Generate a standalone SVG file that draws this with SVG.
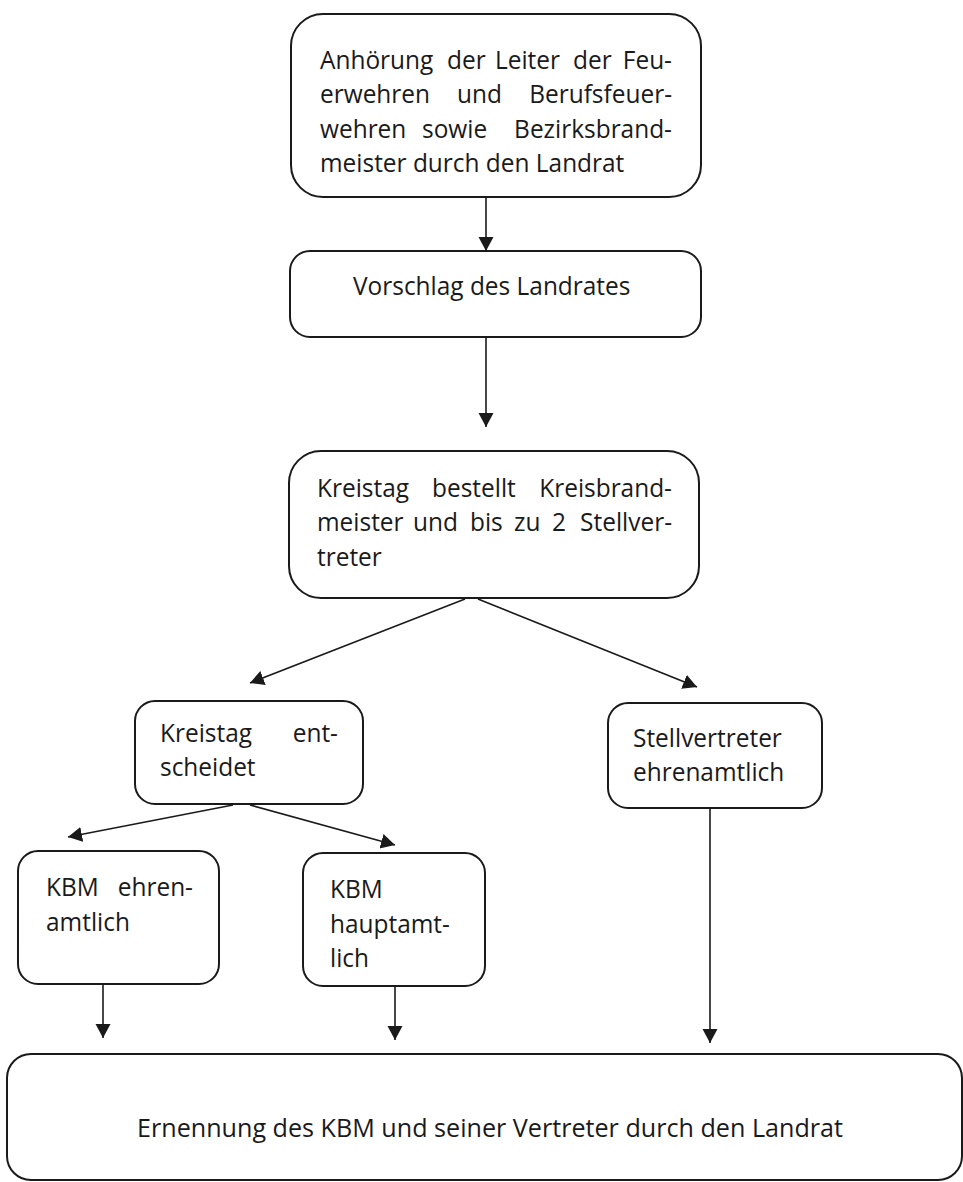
<svg xmlns="http://www.w3.org/2000/svg" width="963" height="1182" viewBox="0 0 963 1182">
<defs>
<style>
.box{fill:#ffffff;stroke:#1a1a1a;stroke-width:2}
.t{font-family:"Open Sans","Noto Sans","Liberation Sans",sans-serif;font-size:26px;fill:#1a1a1a}
.e{text-anchor:end}
.c{stroke:#1a1a1a;stroke-width:1.6;fill:none;marker-end:url(#ah)}
</style>
<marker id="ah" markerUnits="userSpaceOnUse" markerWidth="16" markerHeight="16" refX="14" refY="7.5" orient="auto">
<path d="M0,0 L14,7.5 L0,15 Z" fill="#1a1a1a"/>
</marker>
</defs>
<rect width="963" height="1182" fill="#ffffff"/>
<g id="connectors">
<line class="c" x1="486" y1="197" x2="486" y2="251"/>
<line class="c" x1="486" y1="337" x2="486" y2="427"/>
<line class="c" x1="465" y1="599" x2="250" y2="683"/>
<line class="c" x1="478" y1="599" x2="697" y2="687"/>
<line class="c" x1="233" y1="805" x2="68" y2="837"/>
<line class="c" x1="250" y1="805" x2="395" y2="845"/>
<line class="c" x1="103" y1="985" x2="103" y2="1038"/>
<line class="c" x1="395" y1="987" x2="395" y2="1040"/>
<line class="c" x1="710" y1="805" x2="710" y2="1043"/>
</g>
<g id="n1">
<rect class="box" x="291" y="14" width="410" height="183" rx="32"/>
<g transform="scale(0.94 1)">
<text class="t" y="69"><tspan x="340.43">Anhörung</tspan><tspan x="475.53">der</tspan><tspan x="526.6">Leiter</tspan><tspan x="609.57">der</tspan></text>
<text class="t e" x="714.89" y="69">Feu-</text>
<text class="t" y="103.5"><tspan x="340.43">erwehren</tspan><tspan x="486.17">und</tspan></text>
<text class="t e" x="714.89" y="103.5">Berufsfeuer-</text>
<text class="t" y="138"><tspan x="340.43">wehren</tspan><tspan x="448.94">sowie</tspan></text>
<text class="t e" x="714.89" y="138">Bezirksbrand-</text>
<text class="t" x="340.43" y="172.5">meister durch den Landrat</text>
</g>
</g>
<g id="n2">
<rect class="box" x="290" y="251" width="411" height="86" rx="20"/>
<text class="t" transform="scale(0.94 1)" x="375.53" y="295">Vorschlag des Landrates</text>
</g>
<g id="n3">
<rect class="box" x="289" y="451" width="410" height="147" rx="32"/>
<g transform="scale(0.94 1)">
<text class="t" y="497"><tspan x="337.23">Kreistag</tspan><tspan x="459.57">bestellt</tspan></text>
<text class="t e" x="714.89" y="497">Kreisbrand-</text>
<text class="t" y="531.5"><tspan x="337.23">meister</tspan><tspan x="439.36">und</tspan><tspan x="500">bis</tspan><tspan x="546.81">zu</tspan><tspan x="587.23">2</tspan></text>
<text class="t e" x="714.89" y="531.5">Stellver-</text>
<text class="t" x="337.23" y="566">treter</text>
</g>
</g>
<g id="n4">
<rect class="box" x="135" y="701" width="228" height="103" rx="20"/>
<g transform="scale(0.94 1)">
<text class="t" x="170.21" y="742">Kreistag</text>
<text class="t e" x="359.57" y="742">ent-</text>
<text class="t" x="170.21" y="776.5">scheidet</text>
</g>
</g>
<g id="n5">
<rect class="box" x="608" y="703" width="214" height="105" rx="20"/>
<g transform="scale(0.94 1)">
<text class="t" x="673.4" y="747">Stellvertreter</text>
<text class="t" x="673.4" y="781.5">ehrenamtlich</text>
</g>
</g>
<g id="n6">
<rect class="box" x="18" y="851" width="201" height="133" rx="20"/>
<g transform="scale(0.94 1)">
<text class="t" x="48.94" y="896">KBM</text>
<text class="t e" x="205.32" y="896">ehren-</text>
<text class="t" x="48.94" y="931">amtlich</text>
</g>
</g>
<g id="n7">
<rect class="box" x="303" y="853" width="182" height="133" rx="20"/>
<g transform="scale(0.94 1)">
<text class="t" x="351.06" y="898">KBM</text>
<text class="t" x="351.06" y="933">hauptamt-</text>
<text class="t" x="351.06" y="967.5">lich</text>
</g>
</g>
<g id="n8">
<rect class="box" x="7" y="1054" width="955" height="126" rx="24"/>
<text class="t" transform="scale(0.94 1)" x="521.28" y="1137" text-anchor="middle" textLength="751" lengthAdjust="spacingAndGlyphs">Ernennung des KBM und seiner Vertreter durch den Landrat</text>
</g>
</svg>
